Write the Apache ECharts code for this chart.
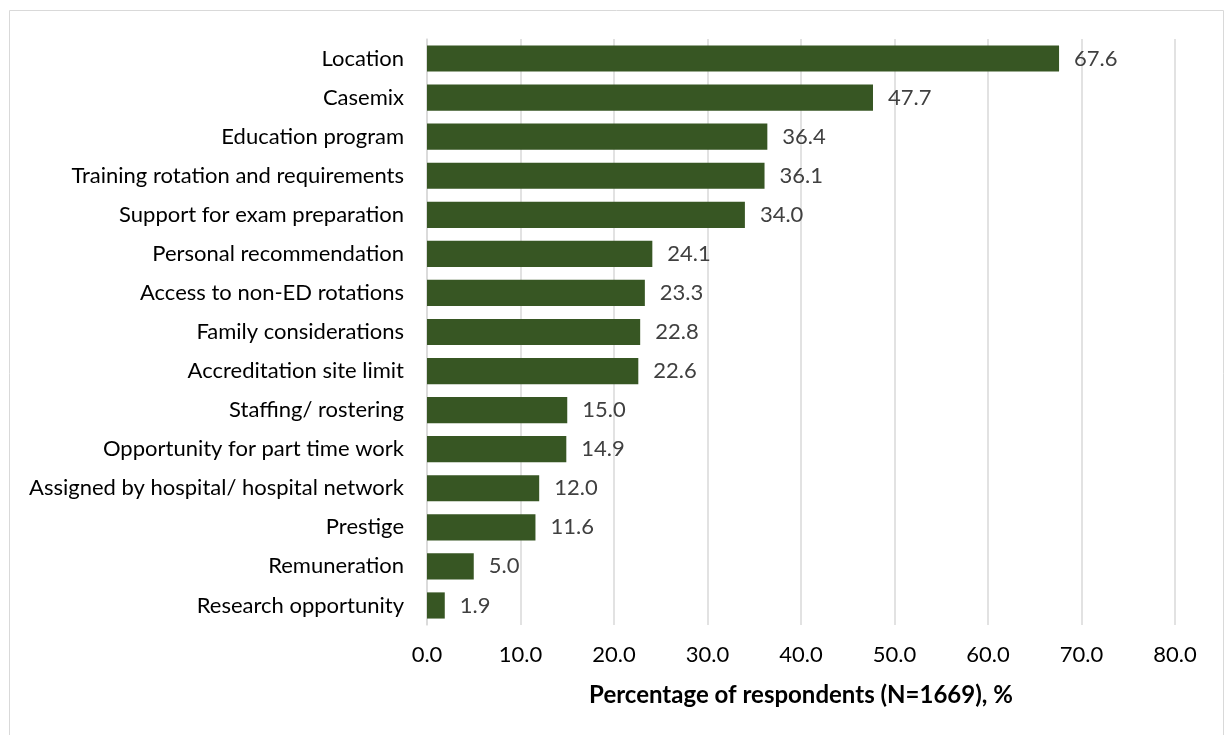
<!DOCTYPE html>
<html><head><meta charset="utf-8">
<script src="https://cdn.jsdelivr.net/npm/echarts@6/dist/echarts.min.js"></script>
<style>html,body{margin:0;padding:0;background:#fff}#c{width:1225px;height:735px}</style>
</head><body><div id="c"></div>
<script>
var categories = ["Location","Casemix","Education program","Training rotation and requirements","Support for exam preparation","Personal recommendation","Access to non-ED rotations","Family considerations","Accreditation site limit","Staffing/ rostering","Opportunity for part time work","Assigned by hospital/ hospital network","Prestige","Remuneration","Research opportunity"];
var values = [67.6,47.7,36.4,36.1,34.0,24.1,23.3,22.8,22.6,15.0,14.9,12.0,11.6,5.0,1.9];
var xTicks = [0,10,20,30,40,50,60,70,80];
var axisTitle = "Percentage of respondents (N=1669), %";
var F = "Lato, 'Liberation Sans', sans-serif";
var chart = echarts.init(document.getElementById('c'), null, {renderer:'canvas'});
chart.setOption({
  animation:false,
  graphic:[{type:'rect',shape:{x:9.5,y:10.5,width:1214,height:740},style:{fill:'none',stroke:'#d9d9d9',lineWidth:1},silent:true}],
  grid:{left:427,right:50,top:39,bottom:110,containLabel:false},
  xAxis:{type:'value',min:xTicks[0],max:xTicks[xTicks.length-1],interval:10,
    name:axisTitle,nameLocation:'middle',nameGap:58,
    nameTextStyle:{fontFamily:F,fontSize:24,fontWeight:'bold',color:'#000'},
    axisLine:{show:false},axisTick:{show:false},
    axisLabel:{fontFamily:F,fontSize:22,color:'#000',margin:19,formatter:function(v){return v.toFixed(1);}},
    splitLine:{show:true,lineStyle:{color:'#d9d9d9',width:1.5}}},
  yAxis:{type:'category',data:categories,inverse:true,
    axisLine:{show:true,lineStyle:{color:'#d9d9d9',width:1.5}},axisTick:{show:false},
    axisLabel:{fontFamily:F,fontSize:22,color:'#000',margin:23}},
  series:[{type:'bar',data:values,barCategoryGap:'33%',
    itemStyle:{color:'#375623'},
    label:{show:true,position:'right',distance:15,fontFamily:F,fontSize:22,color:'#404040',formatter:function(p){return p.value.toFixed(1);}}}]
});
</script></body></html>
